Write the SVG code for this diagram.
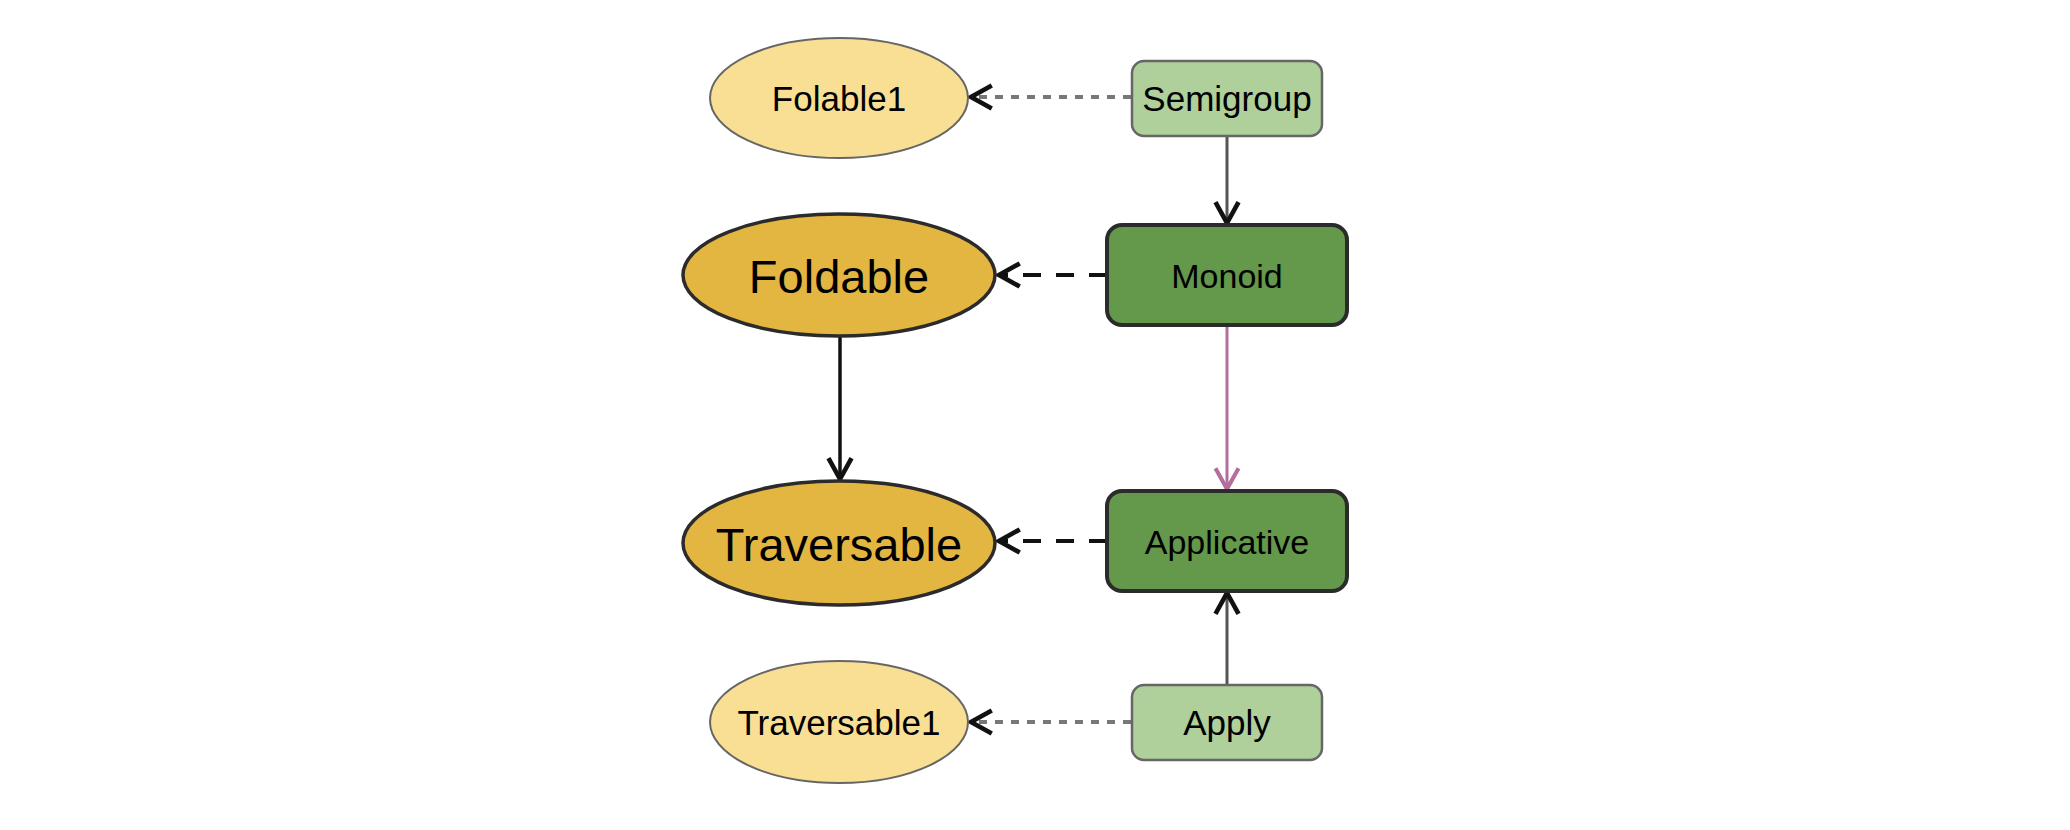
<svg xmlns="http://www.w3.org/2000/svg" width="2070" height="830" viewBox="0 0 2070 830">
<style>
text{font-family:"Liberation Sans",Arial,sans-serif;fill:#000;text-anchor:middle;dominant-baseline:central}
.lightE{fill:#f9df93;stroke:#666;stroke-width:2}
.darkE{fill:#e3b541;stroke:#2b2b2b;stroke-width:3.5}
.lightR{fill:#afcf9b;stroke:#666;stroke-width:2.5}
.darkR{fill:#64984a;stroke:#2b2b2b;stroke-width:4}
.small{font-size:35px}
.mid{font-size:34px}
.big{font-size:47px}
.gdash{stroke:#777;stroke-width:4;stroke-dasharray:8 8;fill:none}
.bdash{stroke:#111;stroke-width:4;stroke-dasharray:18 15;fill:none}
.solid{stroke:#555;stroke-width:3;fill:none}
.black{stroke:#111;stroke-width:3.5;fill:none}
.pink{stroke:#b46e9d;stroke-width:3;fill:none}
</style>
<defs>
<marker id="ah" markerUnits="userSpaceOnUse" markerWidth="30" markerHeight="30" viewBox="-22 -12 26 24" refX="0" refY="0" orient="auto">
<path d="M-18,-10 L0,0 L-18,10" fill="none" stroke="#111" stroke-width="4"/>
</marker>
<marker id="ahp" markerUnits="userSpaceOnUse" markerWidth="30" markerHeight="30" viewBox="-22 -12 26 24" refX="0" refY="0" orient="auto">
<path d="M-18,-10 L0,0 L-18,10" fill="none" stroke="#b46e9d" stroke-width="3.5"/>
</marker>
</defs>
<rect width="2070" height="830" fill="#fff"/>
<g id="connectors">
<line class="gdash" x1="1131" y1="97" x2="971" y2="97" marker-end="url(#ah)"/>
<line class="bdash" x1="1107" y1="275" x2="999" y2="275" marker-end="url(#ah)"/>
<line class="bdash" x1="1107" y1="541" x2="999" y2="541" marker-end="url(#ah)"/>
<line class="gdash" x1="1131" y1="722" x2="971" y2="722" marker-end="url(#ah)"/>
<line class="solid" x1="1227" y1="136" x2="1227" y2="223" marker-end="url(#ah)"/>
<line class="black" x1="840" y1="337" x2="840" y2="479" marker-end="url(#ah)"/>
<line class="pink" x1="1227" y1="327" x2="1227" y2="489" marker-end="url(#ahp)"/>
<line class="solid" x1="1227" y1="685" x2="1227" y2="593" marker-end="url(#ah)"/>
</g>
<g id="Folable1">
<ellipse class="lightE" cx="839" cy="98" rx="129" ry="60"/>
<text class="small" x="839" y="98">Folable1</text>
</g>
<g id="Semigroup">
<rect class="lightR" x="1132" y="61" width="190" height="75" rx="12"/>
<text class="small" x="1227" y="98">Semigroup</text>
</g>
<g id="Foldable">
<ellipse class="darkE" cx="839" cy="275" rx="156" ry="61"/>
<text class="big" x="839" y="276">Foldable</text>
</g>
<g id="Monoid">
<rect class="darkR" x="1107" y="225" width="240" height="100" rx="15"/>
<text class="mid" x="1227" y="276">Monoid</text>
</g>
<g id="Traversable">
<ellipse class="darkE" cx="839" cy="543" rx="156" ry="62"/>
<text class="big" x="839" y="544">Traversable</text>
</g>
<g id="Applicative">
<rect class="darkR" x="1107" y="491" width="240" height="100" rx="15"/>
<text class="mid" x="1227" y="542">Applicative</text>
</g>
<g id="Traversable1">
<ellipse class="lightE" cx="839" cy="722" rx="129" ry="61"/>
<text class="small" x="839" y="722">Traversable1</text>
</g>
<g id="Apply">
<rect class="lightR" x="1132" y="685" width="190" height="75" rx="12"/>
<text class="small" x="1227" y="722">Apply</text>
</g>
</svg>
